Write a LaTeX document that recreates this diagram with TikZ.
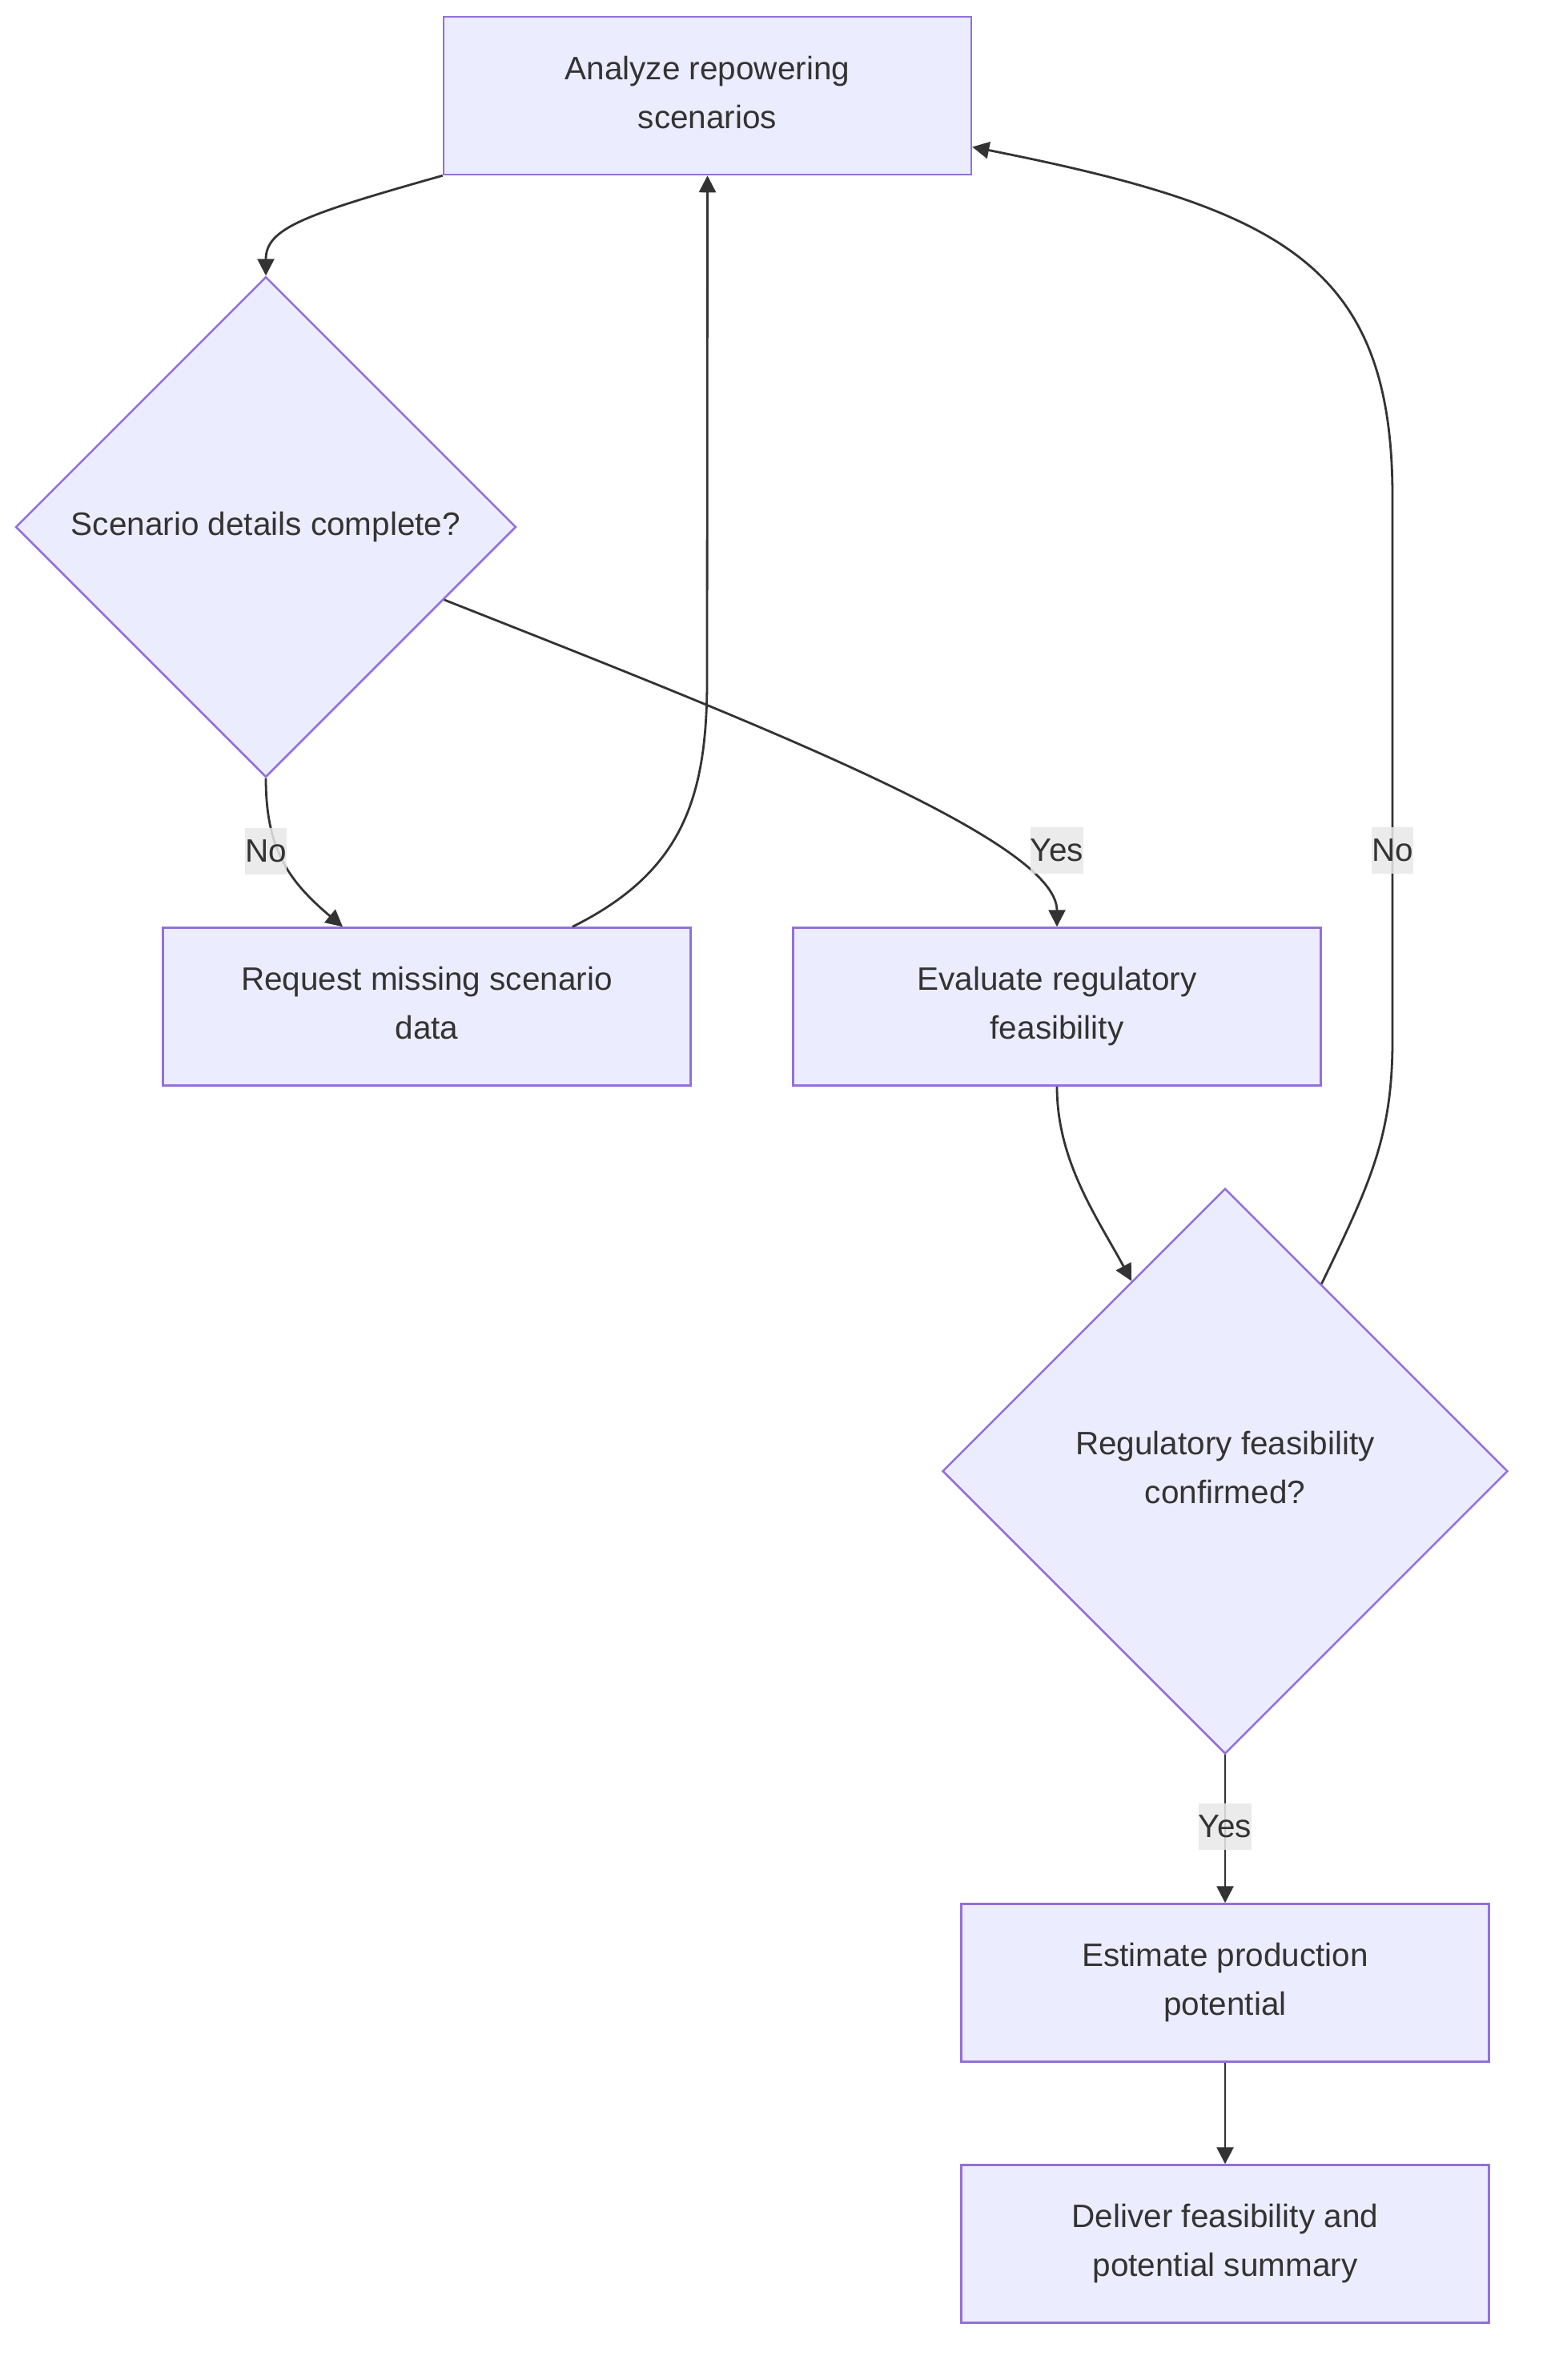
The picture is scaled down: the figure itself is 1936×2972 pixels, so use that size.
\documentclass[tikz,border=0pt]{standalone}
\usepackage{fontspec}
\setmainfont{Liberation Sans}
\usetikzlibrary{shapes.geometric,arrows.meta,calc}
\definecolor{nodefill}{HTML}{ECECFF}
\definecolor{nodeline}{HTML}{9370DB}
\definecolor{ink}{HTML}{333333}
\definecolor{lblfill}{HTML}{E8E8E8}
\begin{document}
\begin{tikzpicture}[x=1pt,y=-1pt,
  txt/.style={text=ink, align=center, text depth=8.5pt, font=\fontsize{40.5}{61}\selectfont},
  box/.style={txt, draw=nodeline, fill=nodefill, line width=2.5pt, minimum width=659pt, minimum height=197pt, inner sep=0pt},
  decision/.style={txt, diamond, aspect=1, draw=nodeline, fill=nodefill, line width=2.5pt, inner sep=0pt},
  lbl/.style={txt, text depth=0pt, fill=lblfill, fill opacity=0.85, text opacity=1, inner xsep=0pt, inner ysep=0pt, minimum height=58pt},
  edge/.style={draw=ink, line width=2.8pt, -{Triangle[length=21pt,width=21pt]}}
]
\useasboundingbox (0,0) rectangle (1936,2972);
\fill[white] (0,0) rectangle (1936,2972);

\node[box] (A) at (883.5,119.5) {Analyze repowering\\scenarios};
\node[decision, minimum width=625pt, minimum height=625pt] (B) at (332,658) {Scenario details complete?};
\node[box] (C) at (533,1257) {Request missing scenario\\data};
\node[box] (D) at (1320,1257) {Evaluate regulatory\\feasibility};
\node[decision, minimum width=706pt, minimum height=706pt] (E) at (1530,1837) {Regulatory feasibility\\confirmed?};
\node[box] (F) at (1530,2476) {Estimate production\\potential};
\node[box] (G) at (1530,2802) {Deliver feasibility and\\potential summary};

\draw[edge] (A.south west) .. controls (380,268) and (332,285) .. (B.north);
\draw[edge] (B.south) .. controls (332,1060) and (360,1100) .. ([xshift=-105pt]C.north);
\draw[edge] ([xshift=182pt]C.north) .. controls (850,1090) and (883,1000) .. (883,850) -- (A.south);
\draw[edge] ($(B.east)!0.29!(B.south)$) .. controls (950,905) and (1320,1050) .. (D.north);
\draw[edge] (D.south) .. controls (1320,1450) and (1370,1520) .. ($(E.north)!0.33!(E.west)$);
\draw[edge] ($(E.north)!0.34!(E.east)$) .. controls (1710,1480) and (1739,1420) .. (1739,1300) -- (1739,620) .. controls (1739,330) and (1600,260) .. ([yshift=-64pt]A.east);
\draw[edge] (E.south) -- (F.north);
\draw[edge] (F.south) -- (G.north);

\node[lbl] (l1) at (332,1063) {No};
\node[lbl] (l2) at (1320,1062) {Yes};
\node[lbl] (l3) at (1739,1062) {No};
\node[lbl] (l4) at (1530,2281) {Yes};
\end{tikzpicture}
\end{document}
